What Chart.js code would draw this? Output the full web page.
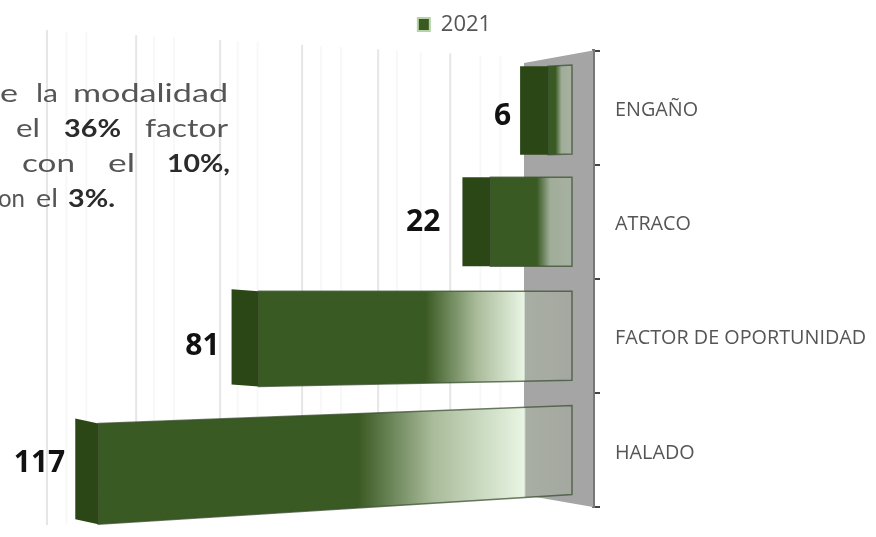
<!DOCTYPE html>
<html>
<head>
<meta charset="utf-8">
<title>Modalidad 2021</title>
<script src="https://cdn.jsdelivr.net/npm/chart.js@4"></script>
<style>
  html, body { margin: 0; padding: 0; background: #ffffff; }
  canvas { display: block; }
</style>
</head>
<body>
<canvas id="chart" width="876" height="537"></canvas>
<script>
// data
const categories = ["ENGAÑO", "ATRACO", "FACTOR DE OPORTUNIDAD", "HALADO"];
const seriesName = "2021";
const values = [6, 22, 81, 117];
const gridStrong = [131.9, 109.5, 88.4, 67.8, 48.7, 30.6];
const gridFaint = [127, 122, 105, 100, 84, 79, 63, 58, 44, 38, 23, 18];

// 3D look of each row (perspective of the original)
const capWidth = [28, 22, 18, 31];
const capInner = [0, 6, 9, -8];
const capDrop = [0, 0, 2, 5];
const rowShift = [2, 0, 0, 0];
const topSlope = [0.05, 0, 0, 0.038];
const bottomSlope = [0.03, 0, 0.02, 0.063];
const labelShift = [9, 1, 11, 14];
const labelGap = [9, 22, 12, 10];

// paragraph beside the chart, word by word: text, left, right, baseline, bold
const note = [
  ["e", 0, 18, 102, false], ["la", 36, 58, 102, false], ["modalidad", 73, 228, 102, false],
  ["el", 16, 40, 137, false], ["36%", 64, 121, 137, true], ["factor", 145, 228, 137, false],
  ["con", 22, 75, 172, false], ["el", 108, 135, 172, false], ["10%,", 167, 230, 172, true],
  ["on", -2, 25, 207, false], ["el", 36, 58, 207, false], ["3%.", 68, 115, 207, true]
];

const GREEN = "#3a5a23";
const CAP = "#2c4716";
const WALL_LEFT = 524;

// bars are drawn as tapered 3D blocks from the positions the scales gave them
Chart.BarElement.prototype.draw = function (ctx) {
  const i = this.row;
  const half = this.height / 2;
  const y = this.y + rowShift[i];
  const inner = this.x + capInner[i];
  const run = this.base - inner;
  const left = this.x - capWidth[i];
  const len = this.base - left;
  const wall = (WALL_LEFT - left) / len;

  const topL = y - half + topSlope[i] * run;
  const botL = y + half + bottomSlope[i] * run;

  const grad = ctx.createLinearGradient(left, 0, this.base, 0);
  if (wall > 0.72) {
    grad.addColorStop(0, GREEN);
    grad.addColorStop(0.57, GREEN);
    grad.addColorStop(0.72, "#a9bb9a");
    grad.addColorStop(wall, "#e8f5e3");
    grad.addColorStop(Math.min(wall + 0.004, 1), "#a9aea5");
    grad.addColorStop(1, "#a4a8a0");
  } else {
    grad.addColorStop(0, GREEN);
    grad.addColorStop(0.68, GREEN);
    grad.addColorStop(0.8, "#a0ad98");
    grad.addColorStop(1, "#a7b1a2");
  }

  ctx.save();
  // front face
  ctx.beginPath();
  ctx.moveTo(inner, topL);
  ctx.lineTo(this.base, y - half);
  ctx.lineTo(this.base, y + half);
  ctx.lineTo(inner, botL);
  ctx.closePath();
  ctx.fillStyle = grad;
  ctx.fill();
  ctx.strokeStyle = "rgba(60,80,50,0.75)";
  ctx.lineWidth = 1.5;
  ctx.stroke();
  // end cap
  ctx.beginPath();
  ctx.moveTo(left, topL - capDrop[i]);
  ctx.lineTo(inner, topL);
  ctx.lineTo(inner, botL);
  ctx.lineTo(left, botL - capDrop[i]);
  ctx.closePath();
  ctx.fillStyle = CAP;
  ctx.fill();
  ctx.restore();
};

const backdrop = {
  id: "backdrop",
  beforeDatasetsDraw(chart) {
    const ctx = chart.ctx, x = chart.scales.x, area = chart.chartArea;
    chart.getDatasetMeta(0).data.forEach((el, i) => { el.row = i; });
    ctx.save();
    // back wall lines
    const drawLines = (list, color) => {
      ctx.strokeStyle = color;
      ctx.lineWidth = 2;
      list.forEach(v => {
        const px = x.getPixelForValue(v);
        ctx.beginPath();
        ctx.moveTo(px, 30 + (px - 47) * 0.058);
        ctx.lineTo(px, 525 - (px - 47) * 0.06);
        ctx.stroke();
      });
    };
    drawLines(gridFaint, "#f8f8f8");
    drawLines(gridStrong, "#e6e6e6");

    // grey side wall
    ctx.fillStyle = "#a5a5a5";
    ctx.beginPath();
    ctx.moveTo(WALL_LEFT, 63);
    ctx.lineTo(area.right, area.top);
    ctx.lineTo(area.right, area.bottom);
    ctx.lineTo(WALL_LEFT, 495);
    ctx.closePath();
    ctx.fill();

    // paragraph: wide geometric letters, so each word is stretched to its width
    ctx.textAlign = "left";
    ctx.textBaseline = "alphabetic";
    note.forEach(w => {
      ctx.font = (w[4] ? "bold " : "") + "25px Lato";
      ctx.fillStyle = w[4] ? "#2b2b2b" : "#555555";
      const sx = (w[2] - w[1]) / ctx.measureText(w[0]).width;
      ctx.save();
      ctx.translate(w[1], w[3]);
      ctx.scale(sx, 1);
      ctx.fillText(w[0], 0, 0);
      ctx.restore();
    });
    ctx.restore();
  },
  afterDatasetsDraw(chart) {
    const ctx = chart.ctx;
    ctx.save();
    ctx.font = "bold 30px 'Open Sans'";
    ctx.fillStyle = "#111111";
    ctx.textAlign = "right";
    ctx.textBaseline = "middle";
    chart.getDatasetMeta(0).data.forEach((el, i) => {
      ctx.fillText(values[i], el.x - capWidth[i] - labelGap[i], el.y + labelShift[i]);
    });
    ctx.restore();
  },
  afterLayout(chart) {
    // legend sits right of the page centre in the original
    chart.legend.left += 33;
    chart.legend.top -= 5;
  }
};

new Chart(document.getElementById("chart"), {
  type: "bar",
  plugins: [backdrop],
  data: {
    labels: categories,
    datasets: [{
      label: seriesName,
      data: values,
      backgroundColor: GREEN,
      borderColor: "#b5d3a5",
      borderWidth: 2,
      barPercentage: 0.78,
      categoryPercentage: 1,
      clip: false
    }]
  },
  options: {
    indexAxis: "y",
    responsive: false,
    animation: false,
    layout: { padding: { top: 0, bottom: 30, left: 0, right: 0 } },
    plugins: {
      tooltip: { enabled: false },
      legend: {
        position: "top",
        labels: {
          boxWidth: 12,
          boxHeight: 13,
          padding: 18.5,
          color: "#555555",
          font: { family: "Open Sans", size: 22 }
        }
      }
    },
    scales: {
      x: {
        reverse: true,
        min: -5.28,
        max: 143.7,
        display: false
      },
      y: {
        position: "right",
        afterFit(scale) { scale.width = 283; },
        grid: {
          offset: true,
          drawOnChartArea: false,
          drawTicks: true,
          tickLength: 7,
          color: "#444444",
          lineWidth: 2
        },
        border: { color: "#777777", width: 3 },
        ticks: {
          crossAlign: "near",
          padding: 15,
          labelOffset: 3,
          color: "#555555",
          font: { family: "Open Sans", size: 19.8 }
        }
      }
    }
  }
});
</script>
</body>
</html>
